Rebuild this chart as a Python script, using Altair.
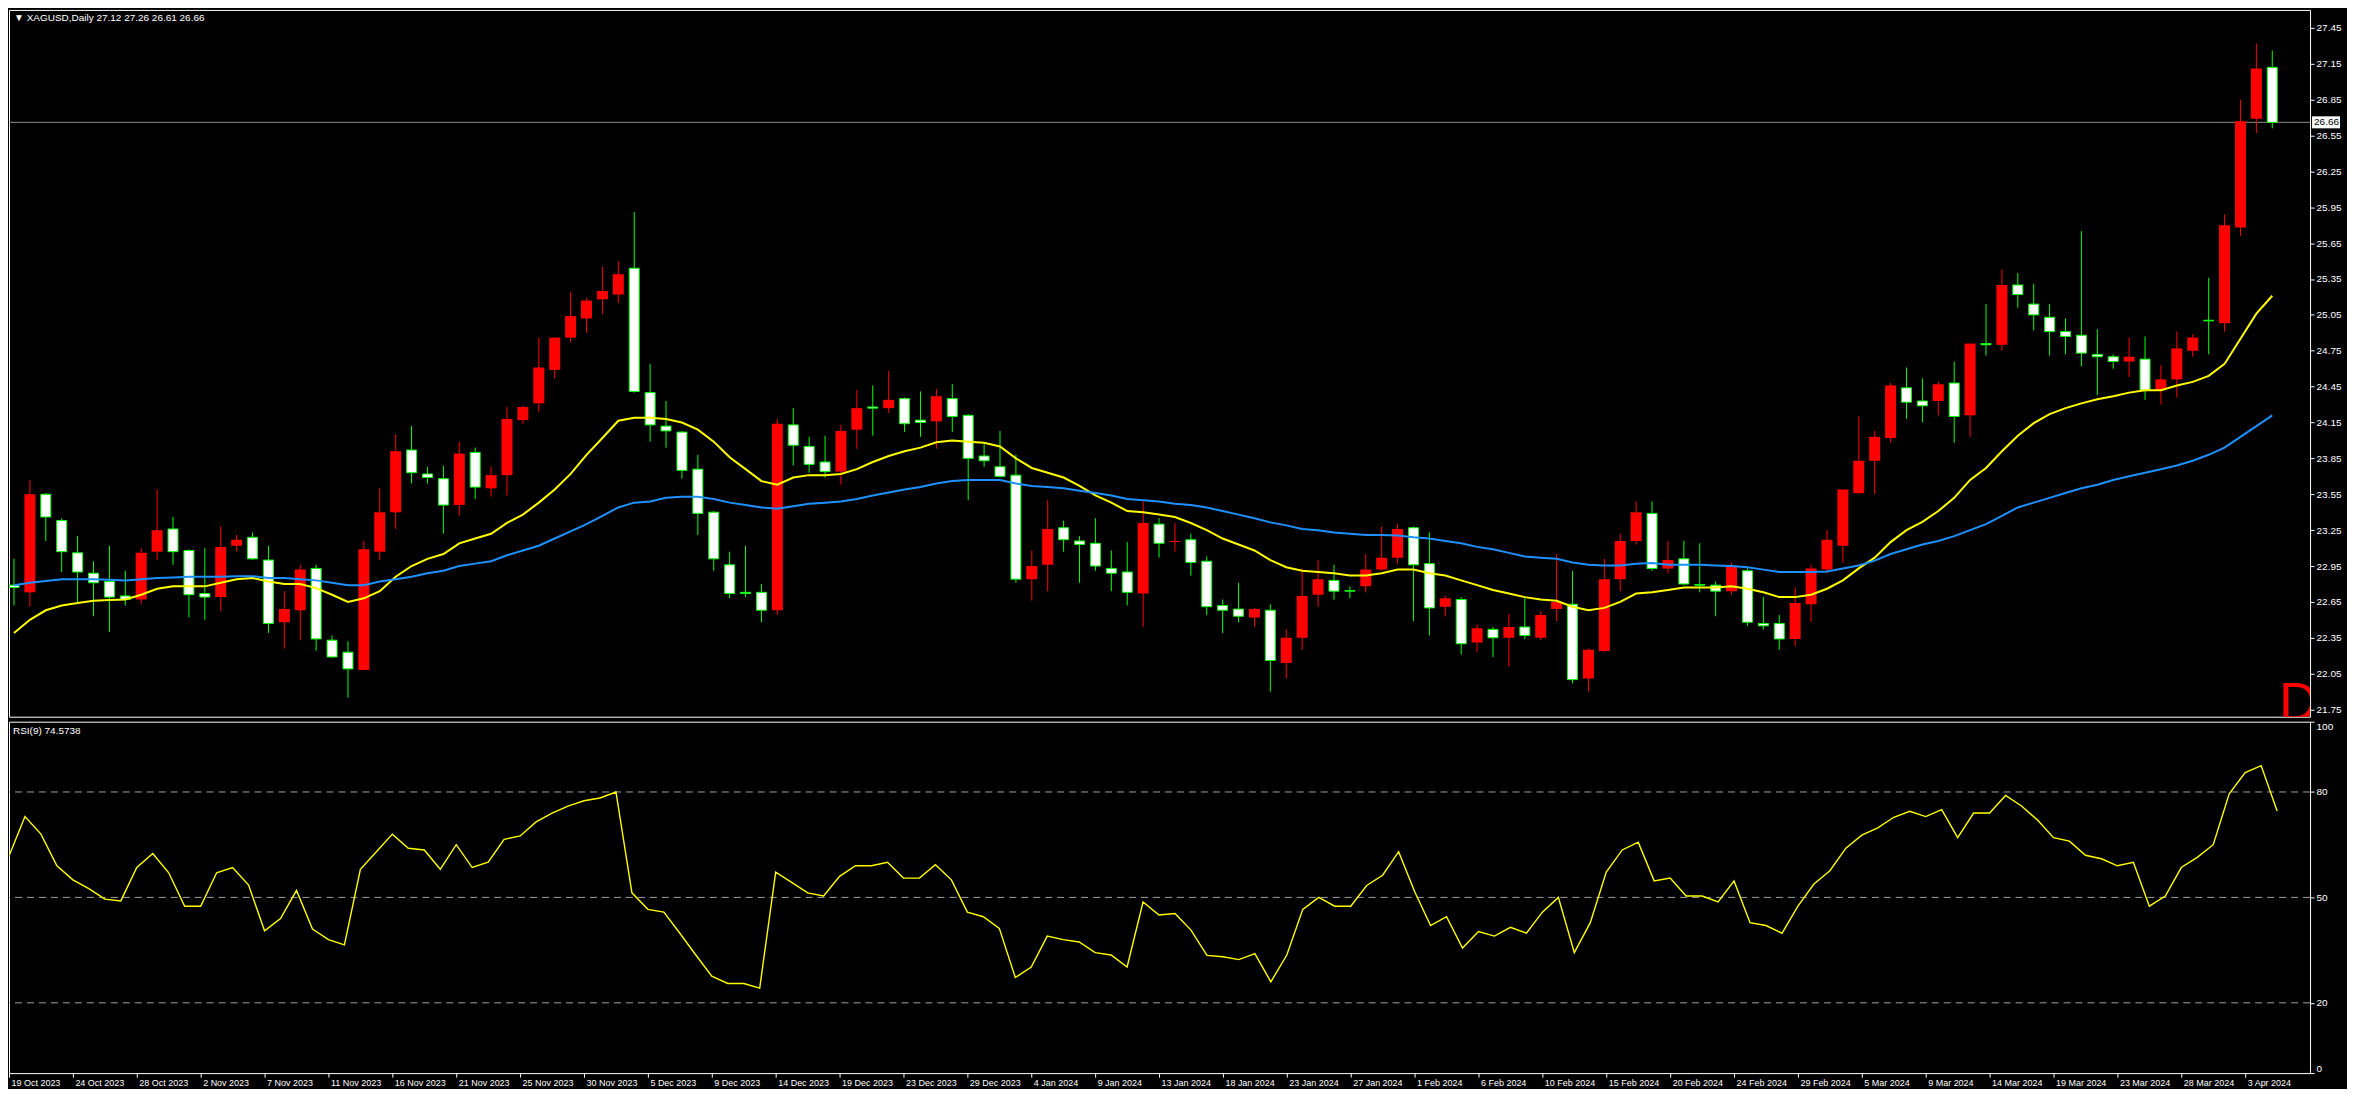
import altair as alt
import pandas as pd

# ---------------- data ----------------
opens = [
    22.79, 22.73, 23.55, 23.33, 23.06, 22.89, 22.82, 22.70, 22.67, 23.07,
    23.26, 23.08, 22.72, 22.69, 23.12, 23.19, 23.00, 22.48, 22.58, 22.93,
    22.33, 22.23, 22.08, 23.07, 23.40, 23.92, 23.72, 23.68, 23.46, 23.90,
    23.60, 23.71, 24.17, 24.31, 24.59, 24.86, 25.02, 25.18, 25.22, 25.44,
    24.40, 24.12, 24.07, 23.76, 23.40, 22.96, 22.73, 22.73, 22.58, 24.13,
    23.95, 23.82, 23.74, 24.09, 24.28, 24.27, 24.35, 24.17, 24.16, 24.35,
    24.21, 23.87, 23.78, 23.71, 22.84, 22.96, 23.27, 23.16, 23.14, 22.93,
    22.90, 22.72, 23.30, 23.15, 23.17, 22.99, 22.62, 22.59, 22.52, 22.58,
    22.14, 22.35, 22.71, 22.83, 22.745, 22.78, 22.92, 23.02, 23.27, 22.97,
    22.61, 22.67, 22.31, 22.42, 22.35, 22.44, 22.35, 22.59, 22.63, 22.01,
    22.24, 22.84, 23.16, 23.39, 22.93, 23.01, 22.795, 22.79, 22.74, 22.91,
    22.47, 22.47, 22.34, 22.63, 22.92, 23.12, 23.56, 23.83, 24.02, 24.44,
    24.33, 24.33, 24.48, 24.21, 24.81, 24.80, 25.30, 25.14, 25.03, 24.91,
    24.88, 24.72, 24.70, 24.66, 24.68, 24.42, 24.51, 24.75, 25.005, 24.98,
    25.78, 26.69, 27.12,
]
highs = [
    23.01, 23.67, 23.56, 23.35, 23.20, 22.99, 23.12, 22.91, 23.10, 23.59,
    23.36, 23.09, 23.10, 23.28, 23.21, 23.23, 23.12, 22.74, 22.96, 22.96,
    22.37, 22.32, 23.16, 23.60, 24.05, 24.12, 23.78, 23.79, 23.99, 23.94,
    23.78, 24.28, 24.29, 24.86, 24.86, 25.24, 25.19, 25.45, 25.50, 25.91,
    24.64, 24.33, 24.08, 23.88, 23.41, 23.07, 23.12, 22.80, 24.18, 24.27,
    24.03, 24.04, 24.13, 24.42, 24.46, 24.58, 24.36, 24.41, 24.43, 24.47,
    24.22, 23.97, 24.08, 23.88, 23.08, 23.50, 23.33, 23.20, 23.35, 23.08,
    23.15, 23.49, 23.35, 23.31, 23.22, 23.03, 22.67, 22.81, 22.60, 22.63,
    22.42, 22.93, 23.00, 22.96, 22.78, 23.05, 23.28, 23.30, 23.28, 23.23,
    22.70, 22.69, 22.46, 22.44, 22.55, 22.68, 22.57, 23.05, 22.91, 22.26,
    23.01, 23.22, 23.49, 23.49, 23.16, 23.16, 23.14, 22.82, 22.98, 22.93,
    22.69, 22.54, 22.77, 22.96, 23.25, 23.59, 24.20, 24.08, 24.48, 24.61,
    24.52, 24.49, 24.66, 24.81, 25.14, 25.43, 25.40, 25.31, 25.14, 25.02,
    25.75, 24.93, 24.72, 24.86, 24.87, 24.63, 24.91, 24.89, 25.36, 25.89,
    26.85, 27.32, 27.26,
]
lows = [
    22.62, 22.61, 23.16, 22.90, 22.63, 22.53, 22.40, 22.62, 22.63, 23.00,
    22.96, 22.52, 22.50, 22.57, 23.07, 23.00, 22.39, 22.26, 22.33, 22.24,
    22.18, 21.85, 22.08, 23.00, 23.26, 23.64, 23.64, 23.22, 23.37, 23.51,
    23.53, 23.54, 24.14, 24.24, 24.52, 24.82, 24.90, 25.06, 25.15, 24.40,
    23.99, 23.94, 23.68, 23.21, 22.91, 22.68, 22.69, 22.48, 22.54, 23.79,
    23.73, 23.69, 23.63, 23.93, 24.04, 24.23, 24.07, 24.03, 23.93, 24.07,
    23.50, 23.78, 23.69, 22.81, 22.66, 22.74, 23.07, 22.81, 22.91, 22.74,
    22.62, 22.44, 23.02, 23.07, 22.87, 22.54, 22.39, 22.48, 22.44, 21.90,
    22.01, 22.25, 22.61, 22.67, 22.68, 22.73, 22.91, 22.97, 22.49, 22.37,
    22.53, 22.21, 22.23, 22.19, 22.11, 22.34, 22.33, 22.49, 21.97, 21.90,
    22.23, 22.74, 23.13, 22.91, 22.89, 22.79, 22.73, 22.53, 22.71, 22.45,
    22.42, 22.25, 22.28, 22.48, 22.89, 22.98, 23.55, 23.55, 23.98, 24.18,
    24.15, 24.21, 23.98, 24.03, 24.71, 24.75, 25.11, 24.92, 24.71, 24.72,
    24.62, 24.38, 24.60, 24.53, 24.34, 24.30, 24.36, 24.70, 24.72, 24.91,
    25.71, 26.57, 26.61,
]
closes = [
    22.77, 23.55, 23.36, 23.07, 22.90, 22.81, 22.69, 22.67, 23.06, 23.25,
    23.07, 22.71, 22.69, 23.11, 23.17, 23.01, 22.47, 22.59, 22.92, 22.34,
    22.19, 22.09, 23.09, 23.40, 23.91, 23.73, 23.69, 23.46, 23.89, 23.61,
    23.71, 24.18, 24.28, 24.61, 24.86, 25.04, 25.17, 25.25, 25.39, 24.41,
    24.13, 24.08, 23.75, 23.39, 23.01, 22.72, 22.72, 22.58, 24.14, 23.96,
    23.80, 23.74, 24.08, 24.27, 24.27, 24.34, 24.14, 24.15, 24.37, 24.20,
    23.85, 23.83, 23.70, 22.84, 22.95, 23.26, 23.17, 23.13, 22.95, 22.89,
    22.73, 23.31, 23.14, 23.16, 22.98, 22.61, 22.58, 22.53, 22.59, 22.16,
    22.35, 22.70, 22.84, 22.74, 22.74, 22.92, 23.02, 23.26, 22.96, 22.60,
    22.68, 22.30, 22.43, 22.35, 22.44, 22.37, 22.54, 22.65, 22.00, 22.25,
    22.84, 23.16, 23.40, 22.93, 23.00, 22.80, 22.79, 22.74, 22.95, 22.48,
    22.45, 22.34, 22.64, 22.93, 23.17, 23.59, 23.83, 24.03, 24.46, 24.32,
    24.29, 24.47, 24.20, 24.81, 24.80, 25.30, 25.22, 25.05, 24.91, 24.87,
    24.73, 24.70, 24.66, 24.70, 24.42, 24.51, 24.77, 24.86, 25.00, 25.80,
    26.67, 27.11, 26.66,
]
ma_fast = [
    22.39, 22.50, 22.58, 22.62, 22.64, 22.66, 22.665, 22.67, 22.71, 22.76,
    22.78, 22.78, 22.78, 22.81, 22.84, 22.85, 22.82, 22.80, 22.80, 22.765,
    22.71, 22.65, 22.68, 22.74, 22.86, 22.95, 23.01, 23.05, 23.14, 23.18,
    23.22, 23.31, 23.38, 23.48, 23.59, 23.72, 23.88, 24.02, 24.165, 24.19,
    24.19, 24.18, 24.15, 24.09, 23.99, 23.86, 23.76, 23.66, 23.63, 23.69,
    23.71, 23.71, 23.72, 23.76, 23.82, 23.87, 23.91, 23.94, 23.985, 24.00,
    23.99, 23.98, 23.95, 23.85, 23.77, 23.73, 23.69, 23.62, 23.54, 23.48,
    23.41, 23.40, 23.38, 23.36, 23.31, 23.25, 23.18, 23.13, 23.08, 23.00,
    22.94, 22.91, 22.90, 22.89, 22.87, 22.87, 22.89, 22.92, 22.92, 22.89,
    22.87, 22.83, 22.79, 22.75, 22.72, 22.69, 22.67, 22.66, 22.61, 22.58,
    22.60, 22.65, 22.72, 22.73, 22.75, 22.77, 22.77, 22.77, 22.78, 22.76,
    22.73, 22.69, 22.69, 22.71, 22.76, 22.83, 22.93, 23.02, 23.15, 23.25,
    23.32, 23.41, 23.52, 23.67, 23.77, 23.91, 24.04, 24.145, 24.22, 24.27,
    24.31, 24.345, 24.37, 24.40, 24.42, 24.42, 24.46, 24.49, 24.54, 24.64,
    24.85, 25.06, 25.21,
]
ma_slow = [
    22.79, 22.81, 22.825, 22.84, 22.84, 22.84, 22.835, 22.83, 22.84, 22.85,
    22.855, 22.86, 22.86, 22.86, 22.865, 22.865, 22.85, 22.85, 22.84, 22.83,
    22.81, 22.79, 22.79, 22.82, 22.84, 22.86, 22.89, 22.91, 22.95, 22.97,
    22.99, 23.04, 23.08, 23.12, 23.18, 23.24, 23.30, 23.37, 23.44, 23.48,
    23.49, 23.52, 23.53, 23.53, 23.51, 23.48, 23.46, 23.44, 23.43, 23.45,
    23.47, 23.48, 23.49, 23.51, 23.54, 23.565, 23.59, 23.61, 23.64, 23.66,
    23.67, 23.67, 23.67, 23.64, 23.62, 23.61, 23.60, 23.58, 23.56, 23.54,
    23.51, 23.50, 23.49, 23.47, 23.46, 23.44, 23.41, 23.38, 23.35, 23.315,
    23.29, 23.26, 23.25, 23.23, 23.22, 23.21, 23.21, 23.205, 23.19, 23.18,
    23.16, 23.14, 23.11, 23.09, 23.06, 23.03, 23.02, 23.01, 22.98, 22.96,
    22.955, 22.955, 22.97, 22.975, 22.96, 22.96, 22.96, 22.955, 22.95, 22.94,
    22.92, 22.90, 22.90, 22.90, 22.905, 22.93, 22.955, 22.995, 23.05, 23.09,
    23.13, 23.16, 23.20, 23.25, 23.30, 23.37, 23.44, 23.48, 23.52, 23.56,
    23.60, 23.63, 23.67, 23.70, 23.73, 23.76, 23.79, 23.83, 23.88, 23.94,
    24.03, 24.12, 24.21,
]
rsi = [
    61.8, 73, 68, 59, 55, 52.5, 49.5, 49, 58.5, 62.5,
    57, 47.5, 47.5, 57, 58.5, 53.5, 40.5, 44, 52, 41,
    38, 36.5, 58, 63, 68, 64, 63.5, 58, 65, 58.5,
    60, 66.5, 67.5, 71.5, 74, 76, 77.5, 78.3, 80, 51.3,
    46.6, 45.8, 39.8, 33.6, 27.6, 25.5, 25.5, 24.2, 57.2, 54.3,
    51.3, 50.4, 56, 59, 59, 60, 55.5, 55.5, 59.3, 55,
    45.8, 44.5, 41.2, 27.2, 30.2, 39, 38, 37.3, 34.3, 33.6,
    30.2, 48.7, 45, 45.4, 40.7, 33.5, 33.1, 32.3, 34, 26,
    33.6, 46.6, 50, 47.5, 47.5, 53.4, 56.3, 63, 51.7, 42,
    44.5, 35.6, 40.3, 39, 41.5, 39.8, 45.8, 50, 34.3, 42.8,
    57.2, 63.5, 65.7, 54.7, 55.5, 50.4, 50.4, 48.7, 54.7, 42.8,
    42, 39.8, 47.5, 53.8, 57.6, 64, 67.7, 69.8, 72.8, 74.5,
    73, 75, 67, 74, 74, 79, 76, 72, 67, 66,
    62, 61, 59, 60, 47.5, 50.4, 58.5, 61.4, 65, 79.5,
    85.5, 87.5, 74.5738,
]
price_ticks = [21.75, 22.05, 22.35, 22.65, 22.95, 23.25, 23.55, 23.85, 24.15, 24.45,
               24.75, 25.05, 25.35, 25.65, 25.95, 26.25, 26.55, 26.85, 27.15, 27.45]
rsi_ticks = [0, 20, 50, 80, 100]
rsi_levels = [20, 50, 80]
date_bars = list(range(0, 141, 4))
date_labels = [
    "19 Oct 2023", "24 Oct 2023", "28 Oct 2023", "2 Nov 2023", "7 Nov 2023", "11 Nov 2023",
    "16 Nov 2023", "21 Nov 2023", "25 Nov 2023", "30 Nov 2023", "5 Dec 2023", "9 Dec 2023",
    "14 Dec 2023", "19 Dec 2023", "23 Dec 2023", "29 Dec 2023", "4 Jan 2024", "9 Jan 2024",
    "13 Jan 2024", "18 Jan 2024", "23 Jan 2024", "27 Jan 2024", "1 Feb 2024", "6 Feb 2024",
    "10 Feb 2024", "15 Feb 2024", "20 Feb 2024", "24 Feb 2024", "29 Feb 2024", "5 Mar 2024",
    "9 Mar 2024", "14 Mar 2024", "19 Mar 2024", "23 Mar 2024", "28 Mar 2024", "3 Apr 2024",
]
symbol = "XAGUSD,Daily"
rsi_name = "RSI(9)"

n = len(closes)
assert all(len(a) == n for a in (opens, highs, lows, ma_fast, ma_slow, rsi))
assert len(date_bars) == len(date_labels)

df = pd.DataFrame({"idx": list(range(n)), "open": opens, "high": highs, "low": lows, "close": closes})
df["dir"] = ["up" if c > o else "down" for o, c in zip(opens, closes)]
df["btop"] = df[["open", "close"]].max(axis=1)
df["bbot"] = df[["open", "close"]].min(axis=1)
ma_df = pd.DataFrame({"idx": list(range(n)), "fast": ma_fast, "slow": ma_slow})
rsi_df = pd.DataFrame({"idx": list(range(n)), "rsi": rsi})

# ---------------- layout ----------------
W, H1, H2 = 2305, 708, 352
BAR_PX = 16
FONT = "Liberation Sans"
x_scale = alt.Scale(domain=[0, W / BAR_PX], nice=False, zero=False)
y_scale = alt.Scale(domain=[21.69, 27.60], nice=False, zero=False)
rsi_scale = alt.Scale(domain=[0, 100], nice=False, zero=False)

y_axis = alt.Axis(orient="right", values=price_ticks, format=".2f", title=None, grid=False,
                  domain=False, tickSize=4, tickColor="white", labelColor="white",
                  labelFont=FONT, labelFontSize=10, labelPadding=2)
x_noaxis = alt.X("idx:Q", scale=x_scale, axis=None)

base = alt.Chart(df)
wicks = base.mark_rule(strokeWidth=1, clip=True).encode(
    x=x_noaxis,
    y=alt.Y("low:Q", scale=y_scale, axis=y_axis),
    y2="high:Q",
    color=alt.Color("dir:N", scale=alt.Scale(domain=["up", "down"], range=["#ff0000", "#00ff00"]), legend=None),
)
up_bodies = base.transform_filter(alt.datum.dir == "up").mark_bar(
    width=11, color="#ff0000", clip=True
).encode(x=x_noaxis, y=alt.Y("bbot:Q", scale=y_scale, axis=y_axis), y2="btop:Q")
down_bodies = base.transform_filter(alt.datum.dir == "down").mark_bar(
    width=10, fill="#ffffff", stroke="#00ff00", strokeWidth=1, clip=True
).encode(x=x_noaxis, y=alt.Y("bbot:Q", scale=y_scale, axis=y_axis), y2="btop:Q")

fast_line = alt.Chart(ma_df).mark_line(color="#ffff00", strokeWidth=2, clip=True).encode(
    x=x_noaxis, y=alt.Y("fast:Q", scale=y_scale, axis=y_axis))
slow_line = alt.Chart(ma_df).mark_line(color="#1e90ff", strokeWidth=2, clip=True).encode(
    x=x_noaxis, y=alt.Y("slow:Q", scale=y_scale, axis=y_axis))

tag_df = pd.DataFrame({"p": [closes[-1]], "t": [f"{closes[-1]:.2f}"]})
last_rule = alt.Chart(tag_df).mark_rule(color="#8c8c8c", strokeWidth=1).encode(
    y=alt.Y("p:Q", scale=y_scale, axis=y_axis))
tag_box = alt.Chart(tag_df).mark_rule(color="white", strokeWidth=12).encode(
    x=alt.value(W + 2), x2=alt.value(W + 30), y=alt.Y("p:Q", scale=y_scale, axis=y_axis))
tag_text = alt.Chart(tag_df).mark_text(align="left", baseline="middle", color="black",
                                       font=FONT, fontSize=10).encode(
    x=alt.value(W + 4), y=alt.Y("p:Q", scale=y_scale, axis=y_axis), text="t:N")

d1 = alt.Chart(pd.DataFrame({"t": ["D1"]})).mark_text(
    align="left", baseline="alphabetic", color="#ff0000", font=FONT, fontSize=54, clip=True
).encode(x=alt.value(2274), y=alt.value(H1 + 3), text="t:N")

header = f"\u25BC {symbol}  {opens[-1]:.2f} {highs[-1]:.2f} {lows[-1]:.2f} {closes[-1]:.2f}"
hdr = alt.Chart(pd.DataFrame({"t": [header]})).mark_text(
    align="left", baseline="top", color="white", font=FONT, fontSize=10
).encode(x=alt.value(5), y=alt.value(3), text="t:N")

price_panel = alt.layer(
    last_rule, wicks, up_bodies, down_bodies, fast_line, slow_line, tag_box, tag_text, d1, hdr
).properties(width=W, height=H1)

# ---------------- RSI panel ----------------
label_expr = ("[" + ",".join(f"'{s}'" for s in date_labels) + "][indexof(["
              + ",".join(str(b) for b in date_bars) + "], datum.value)]")
rsi_x = alt.X("idx:Q", scale=x_scale, axis=alt.Axis(
    values=date_bars, labelExpr=label_expr, labelAlign="left", labelBaseline="top",
    labelFlush=False, labelOverlap=False, labelOffset=2, tickSize=4, tickColor="white",
    labelColor="white", labelFont=FONT, labelFontSize=9, labelPadding=1,
    domain=False, grid=False, title=None))
rsi_axis = alt.Axis(orient="right", values=rsi_ticks, format="d", title=None, grid=False,
                    domain=False, tickSize=4, tickColor="white", labelColor="white",
                    labelFont=FONT, labelFontSize=10, labelPadding=2, labelFlush=True)

levels = alt.Chart(pd.DataFrame({"lv": rsi_levels})).mark_rule(
    color="#a0a0a0", strokeDash=[7, 5], strokeWidth=1
).encode(y=alt.Y("lv:Q", scale=rsi_scale, axis=rsi_axis))
rsi_line = alt.Chart(rsi_df).mark_line(color="#ffff00", strokeWidth=1.4, clip=True).encode(
    x=rsi_x, y=alt.Y("rsi:Q", scale=rsi_scale, axis=rsi_axis))
rsi_hdr = alt.Chart(pd.DataFrame({"t": [f"{rsi_name} {rsi[-1]:.4f}"]})).mark_text(
    align="left", baseline="top", color="white", font=FONT, fontSize=10
).encode(x=alt.value(4), y=alt.value(4), text="t:N")

rsi_panel = alt.layer(levels, rsi_line, rsi_hdr).properties(width=W, height=H2)

chart = (
    alt.vconcat(price_panel, rsi_panel, spacing=3)
    .resolve_scale(x="independent", y="independent")
    .properties(padding=0, background="black")
    .configure_view(stroke="white", strokeWidth=1)
)

chart.save("out.html", embed_options={"renderer": "svg", "actions": False})
